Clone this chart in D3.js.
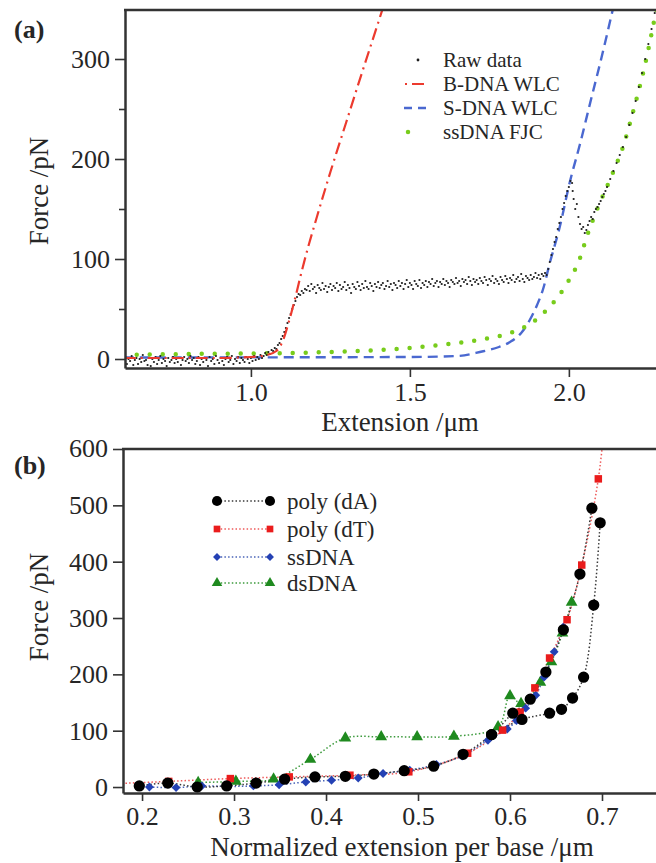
<!DOCTYPE html>
<html>
<head>
<meta charset="utf-8">
<script src="https://cdn.jsdelivr.net/npm/d3@7"></script>
<style>
  body { margin: 0; background: #fff; }
  svg { display: block; }
  text { font-family: "Liberation Serif", "Times New Roman", serif; fill: #262626; }
</style>
</head>
<body>
<svg id="chart" width="656" height="863"></svg>
<script>
/* ---------- panel (a) data : extension (um), force (pN) ---------- */
var rawData = [
  [0.600,-3],[0.605,2],[0.610,-5],[0.615,0],[0.620,-2],[0.625,3],[0.630,-6],[0.635,-1],[0.640,1],[0.645,-5],
  [0.650,0],[0.655,-3],[0.660,4],[0.665,-2],[0.670,-1],[0.675,-6],[0.680,1],[0.685,-7],[0.690,0],[0.695,-3],
  [0.700,2],[0.705,-5],[0.710,-1],[0.715,3],[0.720,-4],[0.725,0],[0.730,-2],[0.735,-7],[0.740,1],[0.745,-3],
  [0.750,-1],[0.755,2],[0.760,-4],[0.765,0],[0.770,-3],[0.775,1],[0.780,-6],[0.785,-1],[0.790,2],[0.795,-2],
  [0.800,0],[0.805,-4],[0.810,3],[0.815,-1],[0.820,1],[0.825,-5],[0.830,-2],[0.835,2],[0.840,-6],[0.845,0],
  [0.850,-3],[0.855,1],[0.860,-1],[0.865,-7],[0.870,2],[0.875,-2],[0.880,0],[0.885,-5],[0.890,3],[0.895,-1],
  [0.900,-4],[0.905,1],[0.910,-2],[0.915,-6],[0.920,0],[0.925,2],[0.930,-3],[0.935,-1],[0.940,3],[0.945,-5],
  [0.950,0],[0.955,-2],[0.960,2],[0.965,-4],[0.970,1],[0.975,-1],[0.980,-3],[0.985,2],[0.990,0],[0.995,-4],
  [1.000,1],[1.005,-2],[1.010,3],[1.015,-1],[1.020,2],[1.025,0],[1.030,4],[1.035,1],[1.040,3],[1.045,6],[1.050,4],
  [1.055,7],[1.060,5],[1.065,9],[1.070,8],[1.075,11],[1.080,10],[1.085,14],[1.090,16],[1.095,20],[1.100,23],
  [1.105,27],[1.110,31],[1.115,36],[1.120,41],[1.125,45],[1.130,50],[1.135,54],[1.140,58],[1.145,62],[1.150,65],
  [1.155,64],[1.160,68],[1.165,66],[1.170,70],
  [1.175,69],[1.180,73],[1.185,68],[1.190,75],[1.195,70],[1.200,72],[1.205,66],[1.210,74],[1.215,71],[1.220,69],
  [1.225,76],[1.230,70],[1.235,73],[1.240,67],[1.245,72],[1.250,75],[1.255,69],[1.260,73],[1.265,71],[1.270,76],
  [1.275,68],[1.280,74],[1.285,70],[1.290,72],[1.295,77],[1.300,69],[1.305,74],[1.310,71],[1.315,66],[1.320,75],
  [1.325,72],[1.330,70],[1.335,77],[1.340,73],[1.345,69],[1.350,75],[1.355,71],[1.360,78],[1.365,72],[1.370,70],
  [1.375,76],[1.380,73],[1.385,68],[1.390,75],[1.395,72],[1.400,77],[1.405,71],[1.410,74],[1.415,76],[1.420,70],
  [1.425,73],[1.430,78],[1.435,72],[1.440,75],[1.445,69],[1.450,76],[1.455,74],[1.460,71],[1.465,78],[1.470,73],
  [1.475,76],[1.480,70],[1.485,75],[1.490,79],[1.495,72],[1.500,76],[1.505,74],[1.510,70],[1.515,78],[1.520,75],
  [1.525,73],[1.530,79],[1.535,71],[1.540,76],[1.545,74],[1.550,78],[1.555,72],[1.560,77],[1.565,75],[1.570,80],
  [1.575,73],[1.580,76],[1.585,78],[1.590,72],[1.595,77],[1.600,75],[1.605,80],[1.610,74],[1.615,78],[1.620,76],
  [1.625,72],[1.630,79],[1.635,77],[1.640,75],[1.645,81],[1.650,76],[1.655,78],[1.660,73],[1.665,80],[1.670,77],
  [1.675,79],[1.680,75],[1.685,82],[1.690,78],[1.695,74],[1.700,80],[1.705,77],[1.710,79],[1.715,75],[1.720,81],
  [1.725,78],[1.730,76],[1.735,82],[1.740,79],[1.745,74],[1.750,80],[1.755,78],[1.760,83],[1.765,76],[1.770,80],
  [1.775,78],[1.780,75],[1.785,82],[1.790,79],[1.795,77],[1.800,83],[1.805,80],[1.810,76],[1.815,81],[1.820,79],
  [1.825,84],[1.830,77],[1.835,80],[1.840,82],[1.845,78],[1.850,85],[1.855,80],[1.860,77],[1.865,83],[1.870,81],
  [1.875,79],[1.880,84],[1.885,80],[1.890,82],[1.895,86],[1.900,81],[1.905,84],[1.910,80],[1.915,85],[1.920,83],
  [1.925,86],[1.930,84],
  [1.935,90],[1.940,97],[1.945,104],[1.950,110],[1.955,117],[1.960,122],[1.965,130],[1.970,136],[1.975,142],
  [1.980,150],[1.985,156],[1.990,163],[1.995,168],[2.000,172],[2.005,178],[2.010,176],[2.012,168],
  [2.015,160],[2.020,150],[2.025,155],[2.030,142],[2.035,135],[2.040,130],[2.045,132],[2.050,126],[2.055,129],[2.060,134],
  [2.065,138],[2.070,142],[2.075,140],[2.080,147],[2.085,150],[2.090,152],[2.095,155],[2.100,158],[2.105,162],
  [2.110,165],[2.115,168],[2.120,172],[2.130,180],[2.140,188],[2.150,196],[2.160,204],[2.170,212],[2.180,222],
  [2.190,234],[2.200,246],[2.210,258],[2.220,272],[2.230,286],[2.240,300],[2.250,315],[2.260,330],[2.270,346]
];
var bDnaWlc = [[0.60,1],[0.90,1],[1.00,2],[1.05,4],[1.08,8],[1.10,18],[1.12,38],[1.14,62],[1.16,88],
  [1.18,112],[1.20,134],[1.25,187],[1.30,237],[1.35,287],[1.40,336],[1.43,366]];
var sDnaWlc = [[0.60,1.5],[1.50,2],[1.65,3],[1.72,7],[1.78,12],[1.815,17],[1.85,26],[1.877,39],[1.90,54],
  [1.918,69],[1.94,96],[1.972,133],[2.003,177],[2.035,215],[2.07,260],[2.10,298],[2.14,352]];
var ssDnaFjc = [[0.60,4],[0.80,5],[1.00,5.5],[1.25,7],[1.50,11],[1.648,16],[1.75,21],[1.815,26],[1.887,37],
  [1.95,56],[1.997,77],[2.035,101],[2.057,123],[2.088,149],[2.138,186],[2.17,212],[2.20,245],[2.24,295],[2.28,358]];
var legendA = ["Raw data", "B-DNA WLC", "S-DNA WLC", "ssDNA FJC"];
var xTicksA = [1.0, 1.5, 2.0];
var yTicksA = [0, 100, 200, 300];
var yMinorA = [50, 150, 250];

/* ---------- panel (b) data : normalized extension per base (um), force (pN) ---------- */
var polyDAExt = [0.197,0.228,0.260,0.292,0.324,0.355,0.388,0.421,0.452,0.485,0.517,0.549,0.580,0.603,0.622,0.639,0.658,0.676,0.689];
var polyDAForce = [2,7,0,2,7,14,18,19,23,29,37,58,93,131,156,204,279,378,495];
var polyDA2Ext = [0.580,0.613,0.643,0.656,0.668,0.680,0.691,0.698];
var polyDA2Force = [93,120,131,138,158,195,323,469];
var polyDTExt = [0.170,0.229,0.296,0.360,0.426,0.490,0.554,0.592,0.611,0.627,0.643,0.662,0.678,0.696,0.706];
var polyDTForce = [6,10,15,18,21,27,60,101,133,176,229,297,394,547,700];
var ssDnaExt = [0.208,0.237,0.265,0.293,0.321,0.349,0.378,0.406,0.435,0.462,0.491,0.520,0.548,0.576,0.597,0.607,0.617,0.628,0.637,0.648,0.658];
var ssDnaForce = [0,-1,2,1,2,4,9,12,16,24,30,40,55,83,103,118,140,163,195,240,284];
var dsDnaExt = [0.261,0.302,0.343,0.383,0.421,0.460,0.499,0.539,0.587,0.600,0.612,0.633,0.645,0.657,0.667];
var dsDnaForce = [8,10,14,49,87,89,89,90,107,162,148,186,222,273,328];
var legendB = ["poly (dA)", "poly (dT)", "ssDNA", "dsDNA"];
var xTicksB = [0.2, 0.3, 0.4, 0.5, 0.6, 0.7];
var yTicksB = [0, 100, 200, 300, 400, 500, 600];

var zip = (xs, ys) => xs.map((x, i) => [x, ys[i]]);

var svg = d3.select("#chart");
var axisColor = "#333";
var tickFont = 26;
var titleFont = 27;

/* ================= panel (a) ================= */
var xA = d3.scaleLinear().domain([0.604, 2.274]).range([125, 656]);
var yA = d3.scaleLinear().domain([-9, 349]).range([368, 10]);

svg.append("clipPath").attr("id", "clipA")
  .append("rect").attr("x", 125).attr("y", 10).attr("width", 531).attr("height", 358);

var plotA = svg.append("g").attr("clip-path", "url(#clipA)");
var lineA = d3.line().x((d) => xA(d[0])).y((d) => yA(d[1])).curve(d3.curveMonotoneX);

plotA.append("path").datum(sDnaWlc).attr("d", lineA)
  .attr("fill", "none").attr("stroke", "#4a68d0").attr("stroke-width", 2.4)
  .attr("stroke-dasharray", "10,6");
plotA.append("path").datum(ssDnaFjc).attr("d", lineA)
  .attr("fill", "none").attr("stroke", "#78cc1c").attr("stroke-width", 4.5)
  .attr("stroke-linecap", "round").attr("stroke-dasharray", "0,13");
plotA.selectAll("circle.raw").data(rawData).enter().append("circle")
  .attr("class", "raw")
  .attr("cx", (d) => xA(d[0])).attr("cy", (d) => yA(d[1]))
  .attr("r", 1.1).attr("fill", "#1e1e1e");
plotA.append("path").datum(bDnaWlc).attr("d", lineA)
  .attr("fill", "none").attr("stroke", "#ec3a2e").attr("stroke-width", 2.2)
  .attr("stroke-dasharray", "12,5,2,5");

// axes (a)
var xAxisA = svg.append("g").attr("transform", "translate(0,368)")
  .call(d3.axisBottom(xA).tickValues(xTicksA).tickFormat(d3.format(".1f"))
    .tickSize(9).tickSizeOuter(0).tickPadding(6));
var yAxisA = svg.append("g").attr("transform", "translate(125,0)")
  .call(d3.axisLeft(yA).tickValues(yTicksA).tickSize(10).tickSizeOuter(0).tickPadding(5));
var yMinA = svg.append("g").attr("transform", "translate(125,0)")
  .call(d3.axisLeft(yA).tickValues(yMinorA).tickSize(6).tickSizeOuter(0).tickFormat(""));
yMinA.select(".domain").remove();
svg.append("line").attr("x1", 124).attr("x2", 656).attr("y1", 10).attr("y2", 10)
  .attr("stroke", axisColor).attr("stroke-width", 2.5);

/* ================= panel (b) ================= */
var xB = d3.scaleLinear().domain([0.1793, 0.7587]).range([123, 656]);
var yB = d3.scaleLinear().domain([-10.6, 600]).range([793, 449]);

svg.append("clipPath").attr("id", "clipB")
  .append("rect").attr("x", 123).attr("y", 449).attr("width", 533).attr("height", 344);

var plotB = svg.append("g").attr("clip-path", "url(#clipB)");
var lineB = d3.line().x((d) => xB(d[0])).y((d) => yB(d[1])).curve(d3.curveCatmullRom.alpha(0.5));

var seriesB = [
  { data: zip(dsDnaExt, dsDnaForce), line: "#3c9a3c", fill: "#1f8a1f", shape: d3.symbolTriangle, size: 60 },
  { data: zip(ssDnaExt, ssDnaForce), line: "#4a64b8", fill: "#2441b4", shape: d3.symbolDiamond2, size: 50 },
  { data: zip(polyDTExt, polyDTForce), line: "#ee5a5a", fill: "#ea1c1c", shape: d3.symbolSquare, size: 56 },
  { data: zip(polyDA2Ext, polyDA2Force), line: "#3a3a3a", fill: "#000", shape: d3.symbolCircle, size: 100 },
  { data: zip(polyDAExt, polyDAForce), line: "#3a3a3a", fill: "#000", shape: d3.symbolCircle, size: 100 }
];

seriesB.forEach((s) => {
  plotB.append("path").datum(s.data).attr("d", lineB)
    .attr("fill", "none").attr("stroke", s.line).attr("stroke-width", 1.5)
    .attr("stroke-dasharray", "1.5,2.2");
});
seriesB.forEach((s) => {
  plotB.selectAll(null).data(s.data).enter().append("path")
    .attr("d", d3.symbol().type(s.shape).size(s.size))
    .attr("transform", (d) => "translate(" + xB(d[0]) + "," + yB(d[1]) + ")")
    .attr("fill", s.fill);
});

// axes (b)
var xAxisB = svg.append("g").attr("transform", "translate(0,793)")
  .call(d3.axisBottom(xB).tickValues(xTicksB).tickFormat(d3.format(".1f"))
    .tickSize(8).tickSizeOuter(0).tickPadding(6));
var yAxisB = svg.append("g").attr("transform", "translate(123,0)")
  .call(d3.axisLeft(yB).tickValues(yTicksB).tickSize(10).tickSizeOuter(0).tickPadding(5));
svg.append("line").attr("x1", 122).attr("x2", 656).attr("y1", 449).attr("y2", 449)
  .attr("stroke", axisColor).attr("stroke-width", 2.5);

/* axis styling shared */
[xAxisA, yAxisA, yMinA, xAxisB, yAxisB].forEach((g) => {
  g.attr("font-family", null).attr("font-size", null);
  g.select(".domain").attr("stroke", axisColor).attr("stroke-width", 2.5);
  g.selectAll(".tick line").attr("stroke", axisColor).attr("stroke-width", 1.6);
  g.selectAll(".tick text").attr("fill", "#262626").style("font-size", tickFont + "px");
});
yAxisB.selectAll(".tick text").filter((d) => d === 600).attr("dy", "0.30em");

/* titles */
svg.append("text").attr("x", 400).attr("y", 431).attr("text-anchor", "middle")
  .style("font-size", titleFont + "px").text("Extension /\u03bcm");
svg.append("text").attr("x", 402).attr("y", 856).attr("text-anchor", "middle")
  .style("font-size", titleFont + "px").text("Normalized extension per base /\u03bcm");
svg.append("text").attr("transform", "translate(48,191) rotate(-90)").attr("text-anchor", "middle")
  .style("font-size", titleFont + "px").text("Force /pN");
svg.append("text").attr("transform", "translate(48,607) rotate(-90)").attr("text-anchor", "middle")
  .style("font-size", titleFont + "px").text("Force /pN");
svg.append("text").attr("x", 14).attr("y", 38).style("font-size", "26px")
  .style("font-weight", "bold").text("(a)");
svg.append("text").attr("x", 14).attr("y", 474).style("font-size", "26px")
  .style("font-weight", "bold").text("(b)");

/* legend (a) */
var legA = svg.append("g");
var rowsA = [60, 84, 108, 132];
legA.append("circle").attr("cx", 418).attr("cy", rowsA[0]).attr("r", 1.4).attr("fill", "#1e1e1e");
legA.append("line").attr("x1", 405).attr("x2", 427).attr("y1", rowsA[1]).attr("y2", rowsA[1])
  .attr("stroke", "#ec3a2e").attr("stroke-width", 2.2).attr("stroke-dasharray", "2,5,12,5");
legA.append("line").attr("x1", 404).attr("x2", 428).attr("y1", rowsA[2]).attr("y2", rowsA[2])
  .attr("stroke", "#4a68d0").attr("stroke-width", 2.4).attr("stroke-dasharray", "8,6");
legA.append("line").attr("x1", 408).attr("x2", 422).attr("y1", rowsA[3]).attr("y2", rowsA[3])
  .attr("stroke", "#78cc1c").attr("stroke-width", 4.5).attr("stroke-linecap", "round")
  .attr("stroke-dasharray", "0,14");
legA.selectAll("text").data(legendA).enter().append("text")
  .attr("x", 443).attr("y", (d, i) => rowsA[i]).attr("dy", "0.34em")
  .style("font-size", "21px").text((d) => d);

/* legend (b) */
var legB = svg.append("g");
var rowsB = [501, 529, 557, 583];
var legSeries = [seriesB[4], seriesB[2], seriesB[1], seriesB[0]];
legSeries.forEach((s, i) => {
  legB.append("line").attr("x1", 217).attr("x2", 270).attr("y1", rowsB[i]).attr("y2", rowsB[i])
    .attr("stroke", s.line).attr("stroke-width", 1.5).attr("stroke-dasharray", "1.5,2.2");
  [217, 270].forEach((cx) => {
    legB.append("path").attr("d", d3.symbol().type(s.shape).size(s.size * 0.8))
      .attr("transform", "translate(" + cx + "," + rowsB[i] + ")").attr("fill", s.fill);
  });
});
legB.selectAll("text").data(legendB).enter().append("text")
  .attr("x", 287).attr("y", (d, i) => rowsB[i]).attr("dy", "0.34em")
  .style("font-size", "23px").text((d) => d);
</script>
</body>
</html>
